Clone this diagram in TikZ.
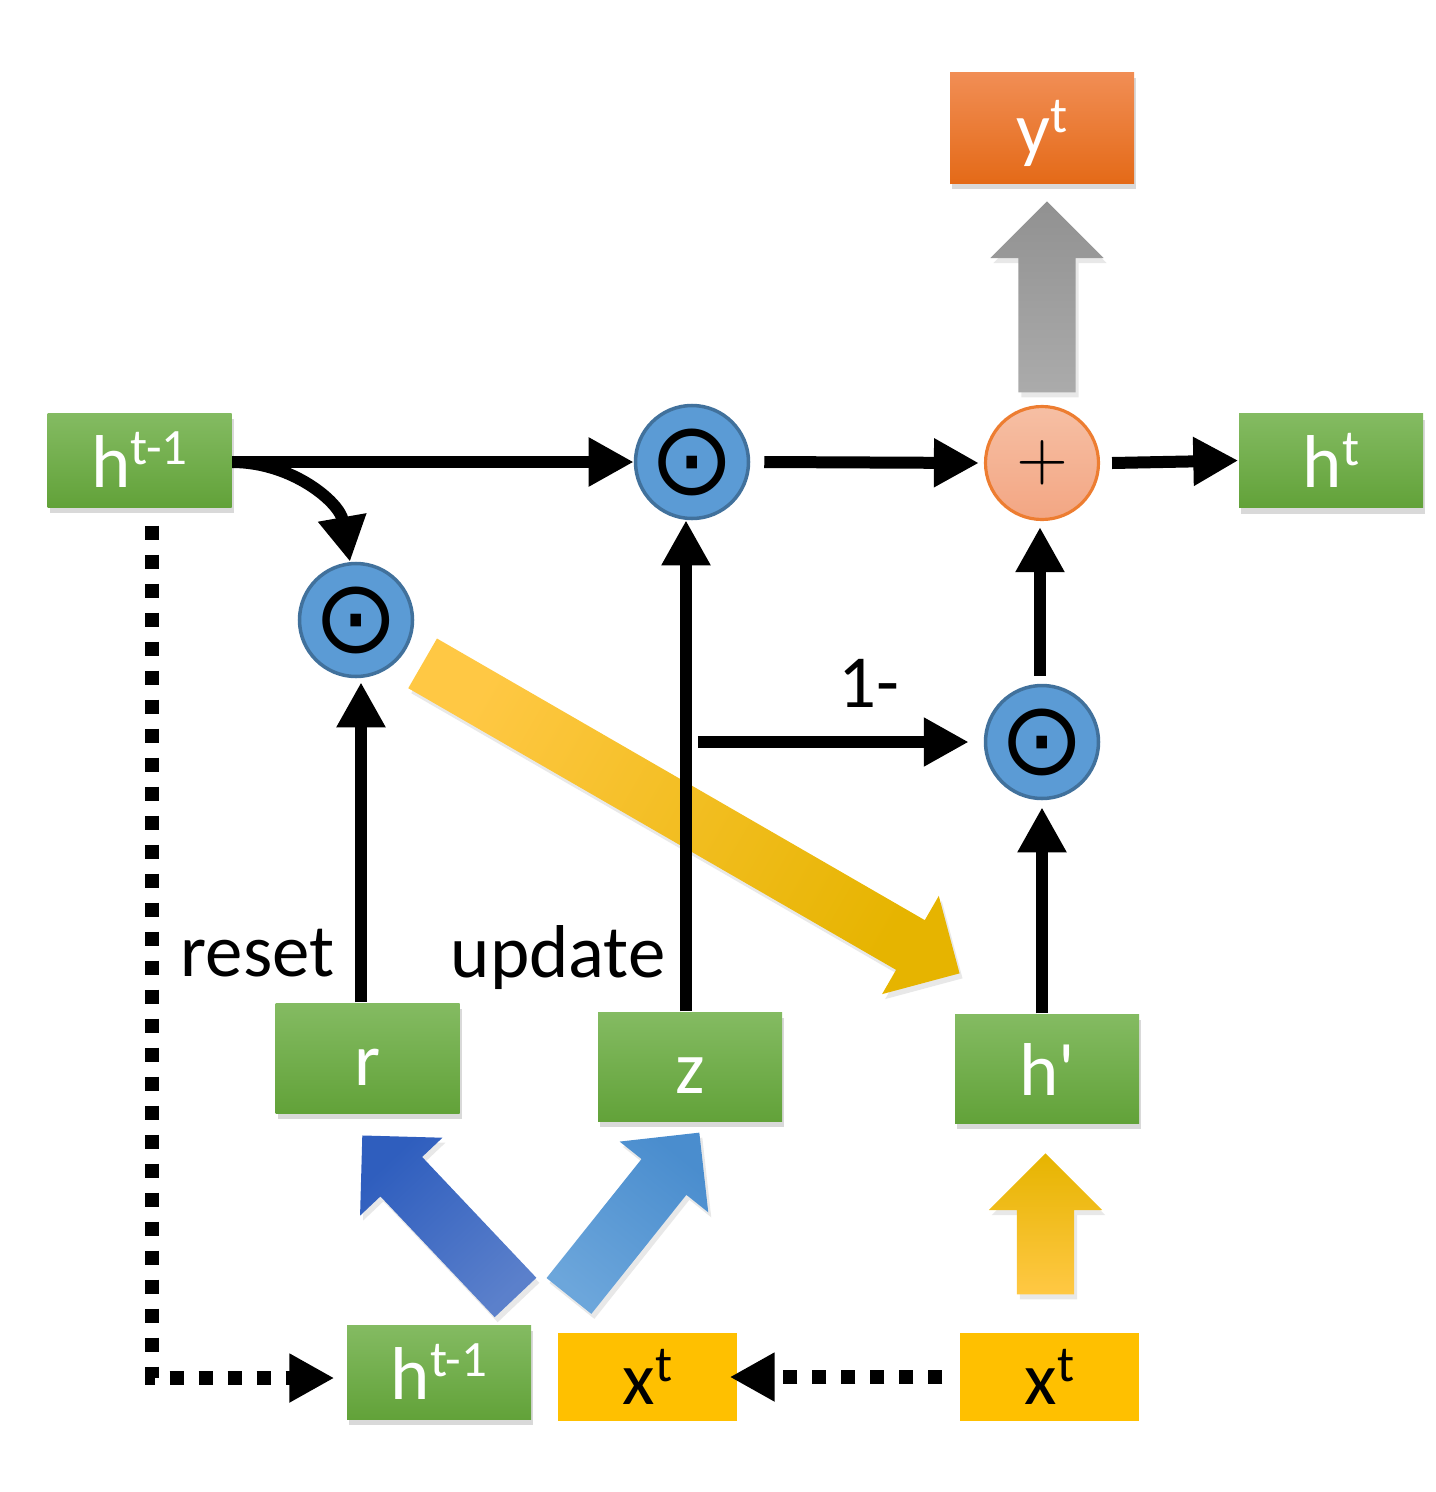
\documentclass[tikz,border=0pt]{standalone}
\usepackage{fontspec}
\setmainfont{Carlito}
\newfontfamily\symfont{DejaVu Sans}
\newfontfamily\lmfont{lmroman10-regular.otf}
\usepackage{tikz}
\usetikzlibrary{arrows.meta,positioning,calc,shapes.arrows,shadows}
\definecolor{guGreenTop}{HTML}{84BB62}
\definecolor{guGreenBot}{HTML}{62A239}
\definecolor{guOrangeTop}{HTML}{F18E55}
\definecolor{guOrangeBot}{HTML}{E46A18}
\definecolor{guBlue}{HTML}{5B9BD5}
\definecolor{guBlueLine}{HTML}{41719C}
\definecolor{guPeachTop}{HTML}{F6BFA4}
\definecolor{guPeachBot}{HTML}{F3A683}
\definecolor{guPeachLine}{HTML}{ED7D31}
\definecolor{guGold}{HTML}{FFC000}
\definecolor{guGoldLight}{HTML}{FFC844}
\definecolor{guGoldDark}{HTML}{E6B400}
\definecolor{guGrayTop}{HTML}{919191}
\definecolor{guGrayBot}{HTML}{ABABAB}
\definecolor{guNavy}{HTML}{2F5EBE}
\definecolor{guNavyTail}{HTML}{5B80CB}
\definecolor{guSky}{HTML}{4A8DCE}
\definecolor{guSkyTail}{HTML}{6CA6DB}
\newcommand{\gufont}{\fontsize{21.3}{25}\selectfont}
\newcommand{\gusup}[1]{\raisebox{0.3em}{\fontsize{14.5}{14.5}\selectfont #1}}
\tikzset{
  % Green state box
  gbox/.style={rectangle,minimum width=1.84cm,minimum height=0.94cm,
    inner sep=0pt,text height=0.6cm,text depth=0.06cm,
    top color=guGreenTop,bottom color=guGreenBot,
    text=white,font=\gufont,
    drop shadow={shadow xshift=0.02cm,shadow yshift=-0.06cm,opacity=0.3}},
  % Output box (orange)
  obox/.style={gbox,top color=guOrangeTop,bottom color=guOrangeBot},
  % Input box (gold, flat)
  xbox/.style={rectangle,minimum width=1.79cm,minimum height=0.88cm,
    inner sep=0pt,text height=0.6cm,text depth=0.06cm,
    fill=guGold,text=black,font=\gufont},
  % Element-wise product
  odot/.style={circle,minimum size=1.13cm,inner sep=-0.2cm,
    fill=guBlue,draw=guBlueLine,line width=1pt,
    font=\symfont\fontsize{29}{29}\selectfont},
  % Sum
  psum/.style={circle,minimum size=1.13cm,inner sep=0pt,
    top color=guPeachTop,bottom color=guPeachBot,draw=guPeachLine,
    line width=0.9pt,font=\lmfont\fontsize{19}{19}\selectfont},
  % Fat block arrows (tail colour, tip colour, shading angle)
  fat/.style n args={3}{single arrow,single arrow tip angle=90,
    single arrow head extend=0.28cm,text height=0.56cm,text depth=0pt,
    inner sep=0pt,anchor=tail,draw=none,
    bottom color=#1,top color=#2,shading angle=#3,
    drop shadow={shadow xshift=0.03cm,shadow yshift=-0.05cm,opacity=0.18}},
  % Arrows
  arr/.style={-{Triangle[length=0.45cm,width=0.46cm]},line width=0.12cm},
  arrd/.style={-{Triangle[length=0.45cm,width=0.46cm]},line width=0.14cm,
    dash pattern=on 0.14cm off 0.15cm},
  lbl/.style={font=\gufont,text=black,inner sep=0pt},
}
\begin{document}
\begin{tikzpicture}
  \useasboundingbox (0,0) rectangle (14.36,-14.92);

  % States and gates
  \node[gbox] (hprev) at (1.395,-4.60) {h\gusup{t-1}};
  \node[obox,minimum height=1.11cm] (yout) at (10.42,-1.275) {y\gusup{t}};
  \node[gbox] (hnext) at (13.31,-4.605) {h\gusup{t}};
  \node[gbox,minimum height=1.10cm] (rgate) at (3.675,-10.58) {r};
  \node[gbox,minimum height=1.09cm] (zgate) at (6.90,-10.665) {z};
  \node[gbox,minimum height=1.09cm] (hcand) at (10.47,-10.685) {h\textquotesingle};
  \node[gbox] (hin) at (4.39,-13.72) {h\gusup{t-1}};
  \node[xbox] (xin) at (6.475,-13.77) {x\gusup{t}};
  \node[xbox] (xsrc) at (10.495,-13.77) {x\gusup{t}};

  % Operators
  \node[odot] (mtop) at (6.92,-4.62) {⊙};
  \node[psum] (sum) at (10.42,-4.63) {+};
  \node[odot] (mreset) at (3.56,-6.20) {⊙};
  \node[odot] (mupd) at (10.42,-7.42) {⊙};

  % Block arrows
  \node[fat={guGrayBot}{guGrayTop}{0},minimum height=1.91cm,rotate=90]
    (gout) at (10.47,-3.93) {};
  \node[fat={guGoldLight}{guGoldDark}{0},minimum height=1.41cm,rotate=90]
    (gcand) at (10.455,-12.95) {};
  \node[fat={guGoldLight}{guGoldDark}{-120},minimum height=6.2cm,rotate=-30]
    (gdiag) at (4.22,-6.63) {};
  \node[fat={guNavyTail}{guNavy}{43.4},minimum height=2.23cm,rotate=133.4]
    (greset) at (5.16,-12.98) {};
  \node[fat={guSkyTail}{guSky}{-38.6},minimum height=2.09cm,rotate=51.4]
    (gupd) at (5.685,-12.965) {};

  % Labels
  \node[lbl,anchor=base west] (lreset) at (1.80,-9.76) {reset};
  \node[lbl,anchor=base west] (lupdate) at (4.50,-9.77) {update};
  \node[lbl,anchor=base west] (lminus) at (8.38,-7.07) {1-};

  % Main flow
  \draw[arr] (hprev.east |- mtop) -- (mtop.west);
  \draw[arr] (hprev.east |- mtop) to[out=0,in=100] ([xshift=-0.06cm]mreset.north);
  \draw[arr] ([xshift=0.14cm]mtop.east) -- ([xshift=-0.05cm]sum.west);
  \draw[arr] ([xshift=0.12cm]sum.east) -- (hnext.west);
  \draw[arr] ([xshift=0.05cm]mreset.south |- rgate.north) -- ([xshift=0.05cm,yshift=-0.04cm]mreset.south);
  \draw[arr] ([xshift=-0.06cm]mtop.south |- zgate.north) -- ([xshift=-0.06cm]mtop.south);
  \draw[arr] ([xshift=0.06cm]mtop |- mupd) -- ([xshift=-0.15cm]mupd.west);
  \draw[arr] ([xshift=-0.02cm,yshift=0.08cm]mupd.north) -- ([xshift=-0.02cm,yshift=-0.06cm]sum.south);
  \draw[arr] (hcand.north -| mupd) -- ([yshift=-0.07cm]mupd.south);

  % Copies
  \draw[arrd] ([xshift=0.125cm,yshift=-0.18cm]hprev.south) |- ([xshift=-0.12cm,yshift=-0.06cm]hin.west);
  \draw[arrd] ([xshift=-0.17cm]xsrc.west) -- ([xshift=-0.08cm]xin.east);
\end{tikzpicture}
\end{document}
